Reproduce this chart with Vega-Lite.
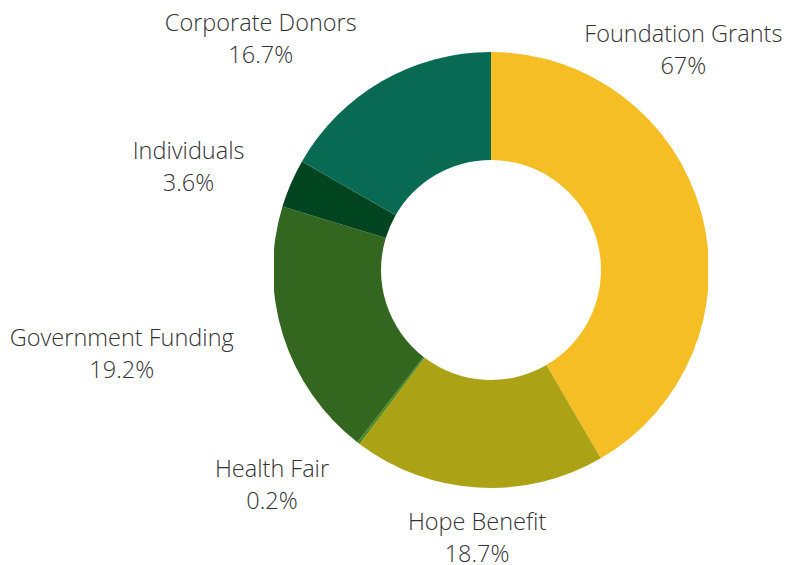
{
  "$schema": "https://vega.github.io/schema/vega-lite/v6.json",
  "width": 434,
  "height": 440,
  "autosize": "none",
  "padding": {"left": 274, "top": 50, "right": 91, "bottom": 75},
  "background": "white",
  "config": {"view": {"stroke": null}, "text": {"font": "Open Sans", "fontSize": 23.5, "fontWeight": 300, "fill": "#333333", "lineHeight": 32}},
  "data": {
    "values": [
      {"idx": 1, "name": "Foundation Grants", "value": 41.6, "pct": "67%"},
      {"idx": 2, "name": "Hope Benefit", "value": 18.7, "pct": "18.7%"},
      {"idx": 3, "name": "Health Fair", "value": 0.2, "pct": "0.2%"},
      {"idx": 4, "name": "Government Funding", "value": 19.2, "pct": "19.2%"},
      {"idx": 5, "name": "Individuals", "value": 3.6, "pct": "3.6%"},
      {"idx": 6, "name": "Corporate Donors", "value": 16.7, "pct": "16.7%"}
    ]
  },
  "transform": [{"calculate": "[datum.name, datum.pct]", "as": "lines"}],
  "encoding": {
    "theta": {"field": "value", "type": "quantitative", "stack": true},
    "order": {"field": "idx", "type": "quantitative"}
  },
  "layer": [
    {
      "mark": {"type": "arc", "outerRadius": 218, "innerRadius": 110, "clip": true},
      "encoding": {
        "color": {
          "field": "name", "type": "nominal", "legend": null,
          "scale": {
            "domain": ["Foundation Grants", "Hope Benefit", "Health Fair", "Government Funding", "Individuals", "Corporate Donors"],
            "range": ["#F5BE25", "#ACA215", "#4E8A1F", "#33661F", "#004520", "#086A52"]
          }
        }
      }
    },
    {
      "mark": {"type": "text", "radius": 250, "dx": -49, "dy": -170, "align": "center", "baseline": "middle"},
      "encoding": {"text": {"condition": {"test": "datum.name === 'Foundation Grants'", "field": "lines"}, "value": ""}}
    },
    {
      "mark": {"type": "text", "radius": 250, "dx": 1, "dy": 3, "align": "center", "baseline": "middle"},
      "encoding": {"text": {"condition": {"test": "datum.name === 'Hope Benefit'", "field": "lines"}, "value": ""}}
    },
    {
      "mark": {"type": "text", "radius": 250, "dx": -67, "dy": 2, "align": "center", "baseline": "middle"},
      "encoding": {"text": {"condition": {"test": "datum.name === 'Health Fair'", "field": "lines"}, "value": ""}}
    },
    {
      "mark": {"type": "text", "radius": 250, "dx": -131, "dy": -7, "align": "center", "baseline": "middle"},
      "encoding": {"text": {"condition": {"test": "datum.name === 'Government Funding'", "field": "lines"}, "value": ""}}
    },
    {
      "mark": {"type": "text", "radius": 250, "dx": -73, "dy": -19, "align": "center", "baseline": "middle"},
      "encoding": {"text": {"condition": {"test": "datum.name === 'Individuals'", "field": "lines"}, "value": ""}}
    },
    {
      "mark": {"type": "text", "radius": 250, "dx": -105, "dy": -30, "align": "center", "baseline": "middle"},
      "encoding": {"text": {"condition": {"test": "datum.name === 'Corporate Donors'", "field": "lines"}, "value": ""}}
    }
  ]
}
